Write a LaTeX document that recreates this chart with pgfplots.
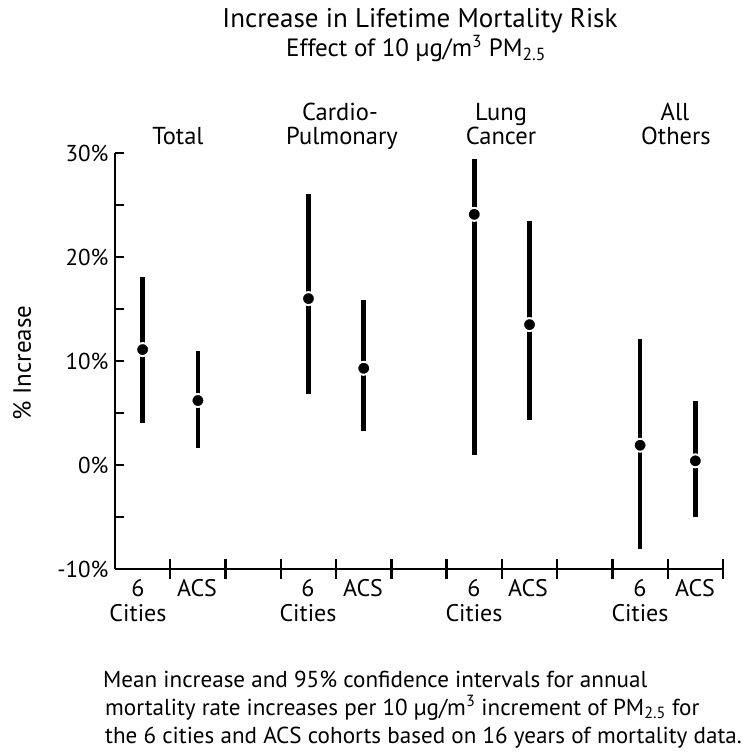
\documentclass[border=0pt]{standalone}
\usepackage{fontspec}
\setmainfont{PT Sans}
\usepackage{pgfplots}
\pgfplotsset{compat=1.18}
\usepackage{pgfplotstable}

\pgfplotstableread{
x y lo hi
0.5 11.1 4.0 18.1
1.5 6.2 1.6 11.0
3.5 16.0 6.8 26.1
4.5 9.3 3.3 15.9
6.5 24.1 1.0 29.4
7.5 13.5 4.3 23.5
9.5 1.9 -8.1 12.1
10.5 0.4 -5.0 6.2
}\data

\newcommand\titlefont{\fontsize{27bp}{30bp}\selectfont}
\newcommand\subfont{\fontsize{25bp}{28bp}\selectfont}
\newcommand\catfont{\fontsize{24.5bp}{28bp}\selectfont}
\newcommand\lblfont{\fontsize{24bp}{28bp}\selectfont}
\newcommand\capfont{\fontsize{23.1bp}{28bp}\selectfont}
\newcommand\tickfont{\fontsize{23bp}{26bp}\selectfont}

\begin{document}
\begin{tikzpicture}
\begin{scope}[x=1bp,y=-1bp,shift={(-115bp,569bp)}]
\path[use as bounding box] (0,0) rectangle (751,756);
\end{scope}
\begin{axis}[at={(0,0)}, anchor=south west, scale only axis,
  width=608bp, height=416bp,
  xmin=0, xmax=11, ymin=-10, ymax=30,
  axis x line*=bottom, axis y line*=left,
  axis line style={line width=2.7bp, black},
  xtick=\empty,
  extra x ticks={1,2,...,11},
  extra x tick labels={},
  extra x tick style={tick align=center, major tick length=20bp},
  ytick={-10,-5,...,30},
  yticklabels={-10\%,,0\%,,10\%,,20\%,,30\%},
  tick align=inside, major tick length=9bp,
  tick style={line width=2.3bp, black},
  yticklabel style={font=\tickfont, xshift=-3bp},
  clip=false]
\addplot[only marks, mark=none,
  error bars/.cd, y dir=both, y explicit, error mark=none,
  error bar style={line width=4.7bp, black}]
  table[x=x, y=y, y error plus expr=\thisrow{hi}-\thisrow{y},
        y error minus expr=\thisrow{y}-\thisrow{lo}] {\data};
\addplot[only marks, mark=*, mark size=6.5bp,
  mark options={fill=black, draw=white, line width=2bp}]
  table[x=x, y=y] {\data};
\end{axis}
\begin{scope}[x=1bp,y=-1bp,shift={(-115bp,569bp)}, every node/.style={inner sep=0pt, font=\catfont}]
\node[anchor=base, font=\titlefont] at (420,28) {Increase in Lifetime Mortality Risk};
\node[anchor=base, font=\subfont] at (416,57) {Effect of 10 µg/m\textsuperscript{3} PM\textsubscript{2.5}};
\node[anchor=base] at (178,145) {Total};
\node[anchor=base] at (340,121) {Cardio-};
\node[anchor=base] at (342,145) {Pulmonary};
\node[anchor=base] at (501,121) {Lung};
\node[anchor=base] at (501,145) {Cancer};
\node[anchor=base] at (675,121) {All};
\node[anchor=base] at (676,145) {Others};
\foreach \cx/\ax in {138/197, 308/363, 474/528, 640/695}{
  \node[anchor=base, font=\lblfont] at (\cx,597) {6};
  \node[anchor=base, font=\lblfont] at (\cx,621) {Cities};
  \node[anchor=base, font=\lblfont] at (\ax,597) {ACS};
}
\node[anchor=base, rotate=90, font=\subfont] at (31,363) {\% Increase};
\begin{scope}[every node/.style={inner sep=0pt, font=\capfont, anchor=base west}]
\node at (103,687) {Mean increase and 95\% confidence intervals for annual};
\node at (105,715) {mortality rate increases per 10 µg/m\textsuperscript{3} increment of PM\textsubscript{2.5} for};
\node at (105,743) {the 6 cities and ACS cohorts based on 16 years of mortality data.};
\end{scope}
\end{scope}
\end{tikzpicture}
\end{document}
